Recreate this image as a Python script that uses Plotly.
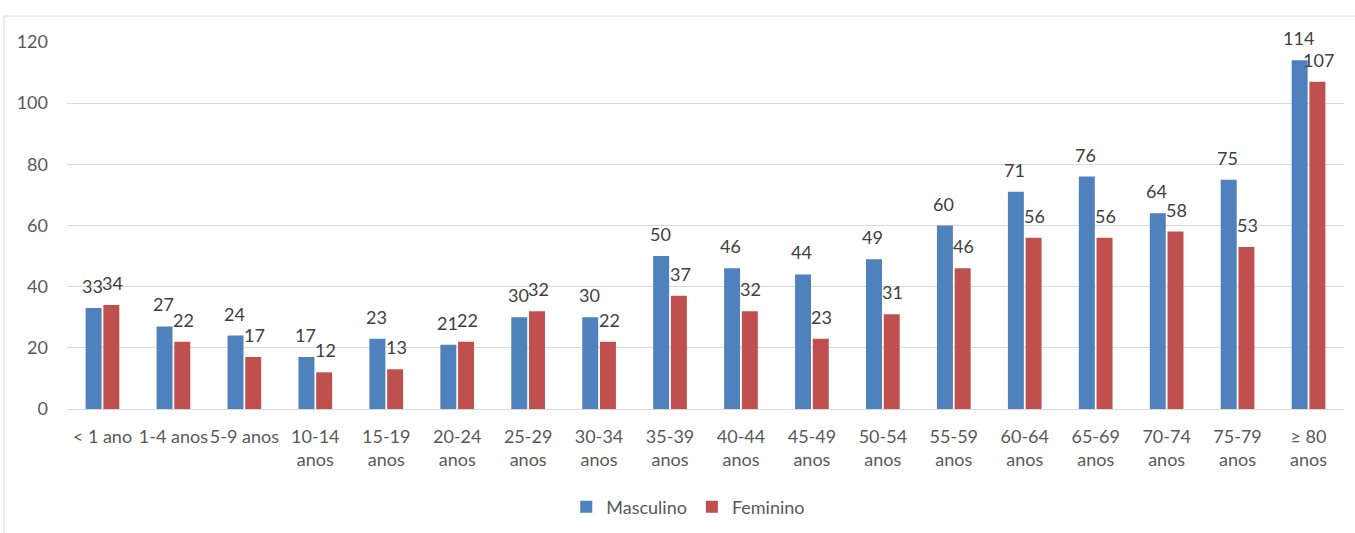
import plotly.graph_objects as go

categories = ["< 1 ano", "1-4 anos", "5-9 anos", "10-14<br>anos", "15-19<br>anos", "20-24<br>anos",
              "25-29<br>anos", "30-34<br>anos", "35-39<br>anos", "40-44<br>anos", "45-49<br>anos",
              "50-54<br>anos", "55-59<br>anos", "60-64<br>anos", "65-69<br>anos", "70-74<br>anos",
              "75-79<br>anos", "≥ 80<br>anos"]
masculino = [33, 27, 24, 17, 23, 21, 30, 30, 50, 46, 44, 49, 60, 71, 76, 64, 75, 114]
feminino = [34, 22, 17, 12, 13, 22, 32, 22, 37, 32, 23, 31, 46, 56, 56, 58, 53, 107]
y_ticks = [0, 20, 40, 60, 80, 100, 120]

FONT = "Lato"
BLUE = "#4F81BD"
RED = "#C0504D"

fig = go.Figure()
fig.add_trace(go.Bar(name="Masculino", x=categories, y=masculino, marker_color=BLUE,
                     marker_line_width=0))
fig.add_trace(go.Bar(name="Feminino", x=categories, y=feminino, marker_color=RED,
                     marker_line_width=0))

annotations = []
for i, c in enumerate(categories):
    for vals, xs in ((masculino, -10), (feminino, 10)):
        annotations.append(dict(x=c, y=vals[i], xref="x", yref="y", text=str(vals[i]),
                                showarrow=False, xshift=xs, yshift=22,
                                font=dict(family=FONT, size=18, color="#404040")))

fig.update_layout(
    width=1355, height=533,
    margin=dict(l=67, r=11, t=42, b=124, autoexpand=False),
    paper_bgcolor="white", plot_bgcolor="white",
    barmode="group", bargap=0.5, bargroupgap=0.1,
    font=dict(family=FONT, size=18, color="#595959"),
    showlegend=True,
    legend=dict(orientation="h", x=0.4865, xanchor="center", y=-0.267, yanchor="middle",
                font=dict(family=FONT, size=18, color="#595959"), itemwidth=30,
                traceorder="normal"),
    annotations=annotations,
    shapes=[
        dict(type="line", xref="paper", yref="paper", x0=-0.0493, x1=1.1, y0=1.0708, y1=1.0708,
             line=dict(color="#D9D9D9", width=1)),
        dict(type="line", xref="paper", yref="paper", x0=-0.0493, x1=-0.0493, y0=1.0708, y1=-0.4,
             line=dict(color="#D9D9D9", width=1)),
    ],
)
fig.update_xaxes(type="category", showgrid=False, showline=True, linecolor="#D9D9D9",
                 linewidth=1, ticks="", tickangle=0, automargin=False, ticklabelstandoff=11,
                 tickfont=dict(family=FONT, size=18, color="#595959"))
fig.update_yaxes(range=[0, 120], tickvals=y_ticks, showgrid=True, gridcolor="#D9D9D9",
                 gridwidth=1, zeroline=False, showline=False, ticks="", ticklabelstandoff=18,
                 automargin=False, tickfont=dict(family=FONT, size=18, color="#595959"))

fig.write_html("out.html", config={"displayModeBar": False},
               post_script="document.body.style.margin='0';")
